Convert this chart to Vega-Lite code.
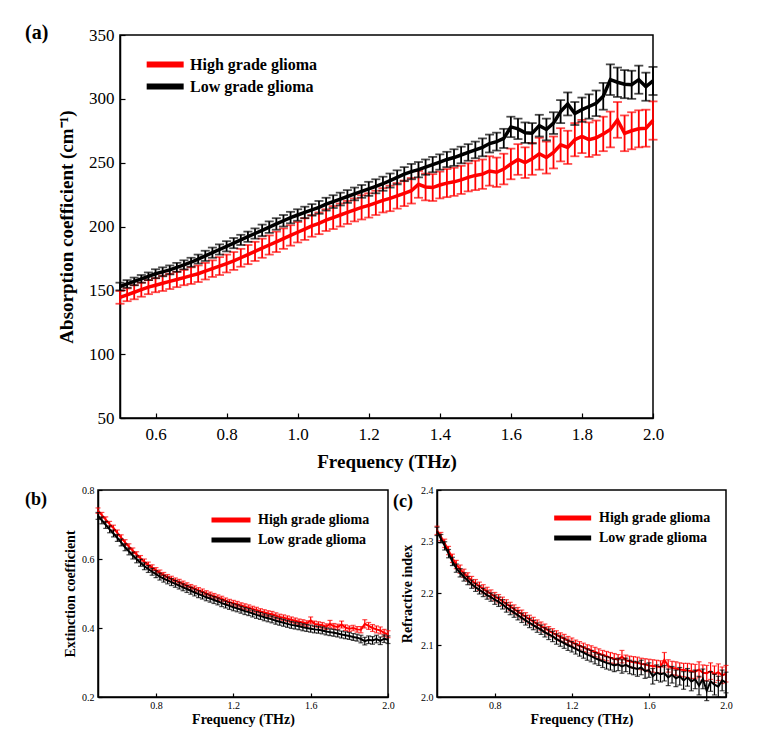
{
"$schema": "https://vega.github.io/schema/vega-lite/v6.json",
"background": "white",
"padding": {"left": 24, "top": 22, "right": 5, "bottom": 5},
"config": {
  "font": "Liberation Serif",
  "view": {"stroke": "black", "strokeWidth": 1.5},
  "axis": {"grid": false, "domainColor": "black", "domainWidth": 1.5, "tickColor": "black", "tickWidth": 1.2, "labelColor": "black", "titleColor": "black", "labelFont": "Liberation Serif", "titleFont": "Liberation Serif", "titleFontWeight": "bold", "labelFlush": false, "labelOverlap": false},
  "legend": {"labelFont": "Liberation Serif", "labelFontWeight": "bold", "labelColor": "black", "symbolType": "M-5,0L1,0", "symbolOpacity": 1, "title": null}
},
"datasets": {
"a": [
{"f":0.50,"h":144.5,"he":5,"l":153,"le":3},{"f":0.52,"h":146.5,"he":5,"l":155,"le":3},{"f":0.54,"h":148.5,"he":5.5,"l":157,"le":3},{"f":0.56,"h":150.5,"he":5.5,"l":159,"le":3},{"f":0.58,"h":152.5,"he":5.5,"l":161,"le":3},{"f":0.60,"h":154,"he":5.5,"l":163,"le":3.5},{"f":0.62,"h":155.5,"he":6,"l":164.5,"le":3.5},{"f":0.64,"h":157,"he":6,"l":166,"le":3.5},{"f":0.66,"h":158.5,"he":6,"l":168,"le":3.5},{"f":0.68,"h":160,"he":6,"l":170,"le":3.5},
{"f":0.70,"h":161.5,"he":6.5,"l":172,"le":3.5},{"f":0.72,"h":163,"he":6.5,"l":174.5,"le":3.5},{"f":0.74,"h":165,"he":6.5,"l":177,"le":4},{"f":0.76,"h":167,"he":6.5,"l":179.5,"le":4},{"f":0.78,"h":169,"he":7,"l":182,"le":4},{"f":0.80,"h":171,"he":7,"l":184.5,"le":4},{"f":0.82,"h":173,"he":7,"l":187,"le":4},{"f":0.84,"h":175.5,"he":7,"l":189.5,"le":4},{"f":0.86,"h":178,"he":7.5,"l":192,"le":4},{"f":0.88,"h":180.5,"he":7.5,"l":194.5,"le":4},
{"f":0.90,"h":183,"he":7.5,"l":197,"le":4.5},{"f":0.92,"h":185.5,"he":7.5,"l":199.5,"le":4.5},{"f":0.94,"h":188,"he":8,"l":202,"le":4.5},{"f":0.96,"h":190.5,"he":8,"l":204.5,"le":4.5},{"f":0.98,"h":193,"he":8,"l":207,"le":4.5},{"f":1.00,"h":195.5,"he":8,"l":209,"le":4.5},{"f":1.02,"h":198,"he":8.5,"l":211,"le":4.5},{"f":1.04,"h":200.5,"he":8.5,"l":213,"le":4.5},{"f":1.06,"h":202.5,"he":8.5,"l":215,"le":5},{"f":1.08,"h":205,"he":8.5,"l":217.5,"le":5},
{"f":1.10,"h":207,"he":9,"l":219.5,"le":5},{"f":1.12,"h":209,"he":9,"l":221.5,"le":5},{"f":1.14,"h":211,"he":9,"l":223.5,"le":5},{"f":1.16,"h":213,"he":9,"l":225.5,"le":5},{"f":1.18,"h":215,"he":9.5,"l":227.5,"le":5},{"f":1.20,"h":216.5,"he":9.5,"l":229.5,"le":5.5},{"f":1.22,"h":218.5,"he":9.5,"l":231.5,"le":5.5},{"f":1.24,"h":220.5,"he":9.5,"l":233.5,"le":5.5},{"f":1.26,"h":222,"he":10,"l":236,"le":5.5},{"f":1.28,"h":224,"he":10,"l":238.5,"le":5.5},
{"f":1.30,"h":226,"he":10,"l":241,"le":5.5},{"f":1.32,"h":228,"he":10,"l":243,"le":6},{"f":1.34,"h":233,"he":10.5,"l":244.5,"le":6},{"f":1.36,"h":231,"he":10.5,"l":246.5,"le":6},{"f":1.38,"h":230.5,"he":10.5,"l":248.5,"le":6},{"f":1.40,"h":232.5,"he":10.5,"l":250.5,"le":6},{"f":1.42,"h":234,"he":11,"l":252.5,"le":6},{"f":1.44,"h":235,"he":11,"l":254,"le":6.5},{"f":1.46,"h":236.5,"he":11,"l":256,"le":6.5},{"f":1.48,"h":238.5,"he":11,"l":258,"le":6.5},
{"f":1.50,"h":240,"he":11.5,"l":260,"le":6.5},{"f":1.52,"h":241,"he":11.5,"l":262,"le":7},{"f":1.54,"h":243.5,"he":11.5,"l":265,"le":7},{"f":1.56,"h":242.5,"he":11.5,"l":266.5,"le":7},{"f":1.58,"h":245,"he":12,"l":269,"le":7.5},{"f":1.60,"h":249,"he":12,"l":278,"le":8},{"f":1.62,"h":252.5,"he":12,"l":276.5,"le":8},{"f":1.64,"h":250,"he":12,"l":273.5,"le":8},{"f":1.66,"h":253,"he":12.5,"l":273,"le":8},{"f":1.68,"h":257,"he":12.5,"l":279,"le":8.5},
{"f":1.70,"h":254,"he":12.5,"l":276,"le":8.5},{"f":1.72,"h":258,"he":12.5,"l":281,"le":8.5},{"f":1.74,"h":264,"he":13,"l":290,"le":9},{"f":1.76,"h":262,"he":13,"l":296,"le":9},{"f":1.78,"h":268,"he":13,"l":288.5,"le":9},{"f":1.80,"h":270.5,"he":13,"l":291.5,"le":9.5},{"f":1.82,"h":268,"he":13.5,"l":294,"le":9.5},{"f":1.84,"h":269.5,"he":13.5,"l":296.5,"le":10},{"f":1.86,"h":272.5,"he":13.5,"l":302,"le":10.5},{"f":1.88,"h":276,"he":14,"l":315,"le":12},
{"f":1.90,"h":283.5,"he":14,"l":313,"le":11.5},{"f":1.92,"h":273,"he":14,"l":311.5,"le":11},{"f":1.94,"h":275,"he":14.5,"l":311,"le":11},{"f":1.96,"h":276.5,"he":14.5,"l":315,"le":11},{"f":1.98,"h":277,"he":14.5,"l":309.5,"le":11},{"f":2.00,"h":283,"he":15,"l":314,"le":11}
],
"b": [
{"f":0.50,"h":0.740,"he":0.008,"l":0.725,"le":0.010},{"f":0.52,"h":0.727,"he":0.008,"l":0.712,"le":0.010},{"f":0.54,"h":0.714,"he":0.008,"l":0.699,"le":0.010},{"f":0.56,"h":0.701,"he":0.008,"l":0.686,"le":0.010},{"f":0.58,"h":0.690,"he":0.008,"l":0.674,"le":0.010},{"f":0.60,"h":0.676,"he":0.008,"l":0.661,"le":0.010},{"f":0.62,"h":0.662,"he":0.008,"l":0.648,"le":0.010},{"f":0.64,"h":0.648,"he":0.008,"l":0.634,"le":0.010},{"f":0.66,"h":0.636,"he":0.008,"l":0.622,"le":0.010},{"f":0.68,"h":0.624,"he":0.008,"l":0.610,"le":0.010},
{"f":0.70,"h":0.613,"he":0.008,"l":0.599,"le":0.010},{"f":0.72,"h":0.602,"he":0.008,"l":0.589,"le":0.010},{"f":0.74,"h":0.592,"he":0.008,"l":0.579,"le":0.010},{"f":0.76,"h":0.583,"he":0.008,"l":0.571,"le":0.010},{"f":0.78,"h":0.575,"he":0.008,"l":0.563,"le":0.010},{"f":0.80,"h":0.567,"he":0.008,"l":0.556,"le":0.010},{"f":0.82,"h":0.560,"he":0.008,"l":0.549,"le":0.010},{"f":0.84,"h":0.553,"he":0.008,"l":0.543,"le":0.010},{"f":0.86,"h":0.547,"he":0.008,"l":0.538,"le":0.010},{"f":0.88,"h":0.542,"he":0.008,"l":0.533,"le":0.010},
{"f":0.90,"h":0.537,"he":0.008,"l":0.528,"le":0.010},{"f":0.92,"h":0.533,"he":0.008,"l":0.523,"le":0.010},{"f":0.94,"h":0.528,"he":0.008,"l":0.518,"le":0.010},{"f":0.96,"h":0.523,"he":0.008,"l":0.513,"le":0.010},{"f":0.98,"h":0.518,"he":0.008,"l":0.508,"le":0.010},{"f":1.00,"h":0.514,"he":0.008,"l":0.503,"le":0.010},{"f":1.02,"h":0.509,"he":0.008,"l":0.498,"le":0.010},{"f":1.04,"h":0.505,"he":0.008,"l":0.494,"le":0.010},{"f":1.06,"h":0.500,"he":0.008,"l":0.489,"le":0.010},{"f":1.08,"h":0.496,"he":0.008,"l":0.485,"le":0.010},
{"f":1.10,"h":0.492,"he":0.008,"l":0.481,"le":0.010},{"f":1.12,"h":0.488,"he":0.008,"l":0.477,"le":0.010},{"f":1.14,"h":0.484,"he":0.008,"l":0.472,"le":0.010},{"f":1.16,"h":0.479,"he":0.008,"l":0.468,"le":0.010},{"f":1.18,"h":0.475,"he":0.008,"l":0.464,"le":0.010},{"f":1.20,"h":0.472,"he":0.008,"l":0.460,"le":0.010},{"f":1.22,"h":0.469,"he":0.008,"l":0.457,"le":0.010},{"f":1.24,"h":0.465,"he":0.008,"l":0.453,"le":0.010},{"f":1.26,"h":0.462,"he":0.008,"l":0.449,"le":0.010},{"f":1.28,"h":0.459,"he":0.008,"l":0.446,"le":0.010},
{"f":1.30,"h":0.455,"he":0.008,"l":0.442,"le":0.010},{"f":1.32,"h":0.452,"he":0.008,"l":0.438,"le":0.010},{"f":1.34,"h":0.448,"he":0.008,"l":0.435,"le":0.010},{"f":1.36,"h":0.445,"he":0.008,"l":0.431,"le":0.010},{"f":1.38,"h":0.442,"he":0.008,"l":0.428,"le":0.010},{"f":1.40,"h":0.440,"he":0.008,"l":0.425,"le":0.010},{"f":1.42,"h":0.436,"he":0.008,"l":0.421,"le":0.010},{"f":1.44,"h":0.432,"he":0.008,"l":0.418,"le":0.010},{"f":1.46,"h":0.430,"he":0.008,"l":0.415,"le":0.010},{"f":1.48,"h":0.427,"he":0.008,"l":0.412,"le":0.010},
{"f":1.50,"h":0.424,"he":0.008,"l":0.409,"le":0.010},{"f":1.52,"h":0.421,"he":0.008,"l":0.407,"le":0.010},{"f":1.54,"h":0.418,"he":0.008,"l":0.405,"le":0.010},{"f":1.56,"h":0.416,"he":0.008,"l":0.402,"le":0.010},{"f":1.58,"h":0.413,"he":0.008,"l":0.400,"le":0.010},{"f":1.60,"h":0.422,"he":0.010,"l":0.398,"le":0.010},{"f":1.62,"h":0.412,"he":0.008,"l":0.396,"le":0.010},{"f":1.64,"h":0.410,"he":0.008,"l":0.395,"le":0.010},{"f":1.66,"h":0.408,"he":0.008,"l":0.393,"le":0.010},{"f":1.68,"h":0.404,"he":0.008,"l":0.390,"le":0.010},
{"f":1.70,"h":0.412,"he":0.010,"l":0.388,"le":0.010},{"f":1.72,"h":0.405,"he":0.008,"l":0.386,"le":0.010},{"f":1.74,"h":0.403,"he":0.008,"l":0.384,"le":0.010},{"f":1.76,"h":0.410,"he":0.010,"l":0.381,"le":0.010},{"f":1.78,"h":0.401,"he":0.008,"l":0.379,"le":0.010},{"f":1.80,"h":0.398,"he":0.008,"l":0.377,"le":0.010},{"f":1.82,"h":0.400,"he":0.008,"l":0.374,"le":0.010},{"f":1.84,"h":0.396,"he":0.008,"l":0.372,"le":0.010},{"f":1.86,"h":0.395,"he":0.009,"l":0.368,"le":0.011},{"f":1.88,"h":0.412,"he":0.012,"l":0.362,"le":0.011},
{"f":1.90,"h":0.406,"he":0.010,"l":0.366,"le":0.011},{"f":1.92,"h":0.400,"he":0.010,"l":0.364,"le":0.011},{"f":1.94,"h":0.396,"he":0.010,"l":0.368,"le":0.011},{"f":1.96,"h":0.393,"he":0.010,"l":0.363,"le":0.011},{"f":1.98,"h":0.386,"he":0.010,"l":0.369,"le":0.011},{"f":2.00,"h":0.382,"he":0.010,"l":0.366,"le":0.011}
],
"c": [
{"f":0.50,"h":2.322,"he":0.008,"l":2.320,"le":0.008},{"f":0.52,"h":2.310,"he":0.008,"l":2.306,"le":0.008},{"f":0.54,"h":2.297,"he":0.008,"l":2.292,"le":0.008},{"f":0.56,"h":2.283,"he":0.008,"l":2.277,"le":0.008},{"f":0.58,"h":2.268,"he":0.008,"l":2.262,"le":0.008},{"f":0.60,"h":2.256,"he":0.008,"l":2.249,"le":0.008},{"f":0.62,"h":2.247,"he":0.008,"l":2.240,"le":0.008},{"f":0.64,"h":2.239,"he":0.008,"l":2.232,"le":0.008},{"f":0.66,"h":2.232,"he":0.008,"l":2.225,"le":0.008},{"f":0.68,"h":2.225,"he":0.008,"l":2.218,"le":0.008},
{"f":0.70,"h":2.219,"he":0.008,"l":2.212,"le":0.008},{"f":0.72,"h":2.214,"he":0.008,"l":2.207,"le":0.008},{"f":0.74,"h":2.209,"he":0.008,"l":2.202,"le":0.008},{"f":0.76,"h":2.204,"he":0.008,"l":2.197,"le":0.008},{"f":0.78,"h":2.199,"he":0.008,"l":2.193,"le":0.008},{"f":0.80,"h":2.194,"he":0.008,"l":2.188,"le":0.009},{"f":0.82,"h":2.190,"he":0.008,"l":2.184,"le":0.009},{"f":0.84,"h":2.185,"he":0.008,"l":2.179,"le":0.009},{"f":0.86,"h":2.180,"he":0.008,"l":2.173,"le":0.009},{"f":0.88,"h":2.175,"he":0.008,"l":2.168,"le":0.009},
{"f":0.90,"h":2.170,"he":0.008,"l":2.163,"le":0.009},{"f":0.92,"h":2.165,"he":0.008,"l":2.158,"le":0.009},{"f":0.94,"h":2.160,"he":0.008,"l":2.153,"le":0.009},{"f":0.96,"h":2.155,"he":0.008,"l":2.148,"le":0.009},{"f":0.98,"h":2.150,"he":0.008,"l":2.143,"le":0.009},{"f":1.00,"h":2.146,"he":0.008,"l":2.139,"le":0.009},{"f":1.02,"h":2.141,"he":0.008,"l":2.134,"le":0.009},{"f":1.04,"h":2.137,"he":0.008,"l":2.130,"le":0.009},{"f":1.06,"h":2.133,"he":0.008,"l":2.125,"le":0.009},{"f":1.08,"h":2.128,"he":0.008,"l":2.121,"le":0.010},
{"f":1.10,"h":2.124,"he":0.008,"l":2.117,"le":0.010},{"f":1.12,"h":2.120,"he":0.008,"l":2.112,"le":0.010},{"f":1.14,"h":2.116,"he":0.008,"l":2.108,"le":0.010},{"f":1.16,"h":2.113,"he":0.008,"l":2.104,"le":0.010},{"f":1.18,"h":2.109,"he":0.008,"l":2.100,"le":0.010},{"f":1.20,"h":2.106,"he":0.008,"l":2.097,"le":0.010},{"f":1.22,"h":2.102,"he":0.008,"l":2.093,"le":0.010},{"f":1.24,"h":2.099,"he":0.008,"l":2.089,"le":0.010},{"f":1.26,"h":2.096,"he":0.008,"l":2.086,"le":0.011},{"f":1.28,"h":2.093,"he":0.008,"l":2.082,"le":0.011},
{"f":1.30,"h":2.090,"he":0.009,"l":2.079,"le":0.011},{"f":1.32,"h":2.087,"he":0.009,"l":2.075,"le":0.011},{"f":1.34,"h":2.084,"he":0.009,"l":2.072,"le":0.011},{"f":1.36,"h":2.081,"he":0.009,"l":2.069,"le":0.012},{"f":1.38,"h":2.079,"he":0.009,"l":2.066,"le":0.012},{"f":1.40,"h":2.076,"he":0.010,"l":2.064,"le":0.012},{"f":1.42,"h":2.074,"he":0.010,"l":2.061,"le":0.012},{"f":1.44,"h":2.072,"he":0.010,"l":2.063,"le":0.012},{"f":1.46,"h":2.078,"he":0.012,"l":2.059,"le":0.013},{"f":1.48,"h":2.071,"he":0.010,"l":2.062,"le":0.013},
{"f":1.50,"h":2.069,"he":0.010,"l":2.058,"le":0.013},{"f":1.52,"h":2.067,"he":0.011,"l":2.056,"le":0.013},{"f":1.54,"h":2.066,"he":0.011,"l":2.054,"le":0.014},{"f":1.56,"h":2.064,"he":0.011,"l":2.057,"le":0.014},{"f":1.58,"h":2.063,"he":0.011,"l":2.050,"le":0.014},{"f":1.60,"h":2.061,"he":0.012,"l":2.052,"le":0.014},{"f":1.62,"h":2.060,"he":0.012,"l":2.040,"le":0.015},{"f":1.64,"h":2.059,"he":0.012,"l":2.047,"le":0.015},{"f":1.66,"h":2.058,"he":0.012,"l":2.044,"le":0.015},{"f":1.68,"h":2.072,"he":0.014,"l":2.046,"le":0.015},
{"f":1.70,"h":2.060,"he":0.012,"l":2.038,"le":0.016},{"f":1.72,"h":2.056,"he":0.013,"l":2.043,"le":0.016},{"f":1.74,"h":2.055,"he":0.013,"l":2.036,"le":0.016},{"f":1.76,"h":2.053,"he":0.013,"l":2.040,"le":0.017},{"f":1.78,"h":2.052,"he":0.013,"l":2.032,"le":0.017},{"f":1.80,"h":2.051,"he":0.014,"l":2.038,"le":0.017},{"f":1.82,"h":2.050,"he":0.014,"l":2.030,"le":0.018},{"f":1.84,"h":2.049,"he":0.014,"l":2.034,"le":0.018},{"f":1.86,"h":2.053,"he":0.015,"l":2.022,"le":0.018},{"f":1.88,"h":2.047,"he":0.015,"l":2.035,"le":0.019},
{"f":1.90,"h":2.046,"he":0.015,"l":2.012,"le":0.019},{"f":1.92,"h":2.050,"he":0.016,"l":2.030,"le":0.019},{"f":1.94,"h":2.044,"he":0.016,"l":2.024,"le":0.020},{"f":1.96,"h":2.048,"he":0.016,"l":2.020,"le":0.020},{"f":1.98,"h":2.042,"he":0.016,"l":2.032,"le":0.020},{"f":2.00,"h":2.045,"he":0.016,"l":2.028,"le":0.020}
]
},
"resolve": {"scale": {"x": "independent", "y": "independent", "color": "independent"}, "legend": {"color": "independent"}},
"spacing": 12,
"vconcat": [
{
  "bounds": "flush",
  "spacing": 21,
  "resolve": {"scale": {"x": "independent", "y": "independent", "color": "independent"}, "legend": {"color": "independent"}},
  "hconcat": [
  {
    "width": 1, "height": 383,
    "view": {"stroke": null, "fill": null},
    "data": {"values": []},
    "mark": {"type": "point", "opacity": 0}
  },
  {
  "width": 533, "height": 383,
  "title": {"text": "(a)", "anchor": "start", "frame": "group", "orient": "top", "offset": 0, "dx": -95, "dy": 33, "baseline": "alphabetic", "fontSize": 20, "fontWeight": "bold", "font": "Liberation Serif", "color": "black"},
  "data": {"name": "a"},
  "encoding": {"x": {"field": "f", "type": "quantitative", "scale": {"domain": [0.5, 2.0], "nice": false, "zero": false}, "axis": {"values": [0.6, 0.8, 1.0, 1.2, 1.4, 1.6, 1.8, 2.0], "format": ".1f", "title": "Frequency (THz)", "labelFontSize": 17, "titleFontSize": 19, "tickSize": -5, "labelPadding": 13, "titlePadding": 10}}},
  "layer": [
    {"mark": {"type": "errorbar", "ticks": {"size": 9}, "thickness": 1.8},
     "encoding": {"y": {"field": "h", "type": "quantitative", "title": "Absorption coefficient (cm⁻¹)", "scale": {"domain": [50, 350], "nice": false, "zero": false}, "axis": {"values": [50, 100, 150, 200, 250, 300, 350], "labelFontSize": 17, "titleFontSize": 19, "tickSize": -5, "labelPadding": 11, "titlePadding": 12}},
       "yError": {"field": "he"},
       "color": {"datum": "High grade glioma", "type": "nominal", "scale": {"domain": ["High grade glioma", "Low grade glioma"], "range": ["#ff0000", "#000000"]},
         "legend": {"orient": "none", "legendX": 48, "legendY": 20, "symbolSize": 152, "symbolStrokeWidth": 6, "labelFontSize": 16, "labelOffset": 3, "rowPadding": -4}}}},
    {"mark": {"type": "line", "strokeWidth": 3.5},
     "encoding": {"y": {"field": "h", "type": "quantitative", "title": "Absorption coefficient (cm⁻¹)"}, "color": {"datum": "High grade glioma", "type": "nominal"}}},
    {"mark": {"type": "errorbar", "ticks": {"size": 9}, "thickness": 1.8},
     "encoding": {"y": {"field": "l", "type": "quantitative", "title": "Absorption coefficient (cm⁻¹)"}, "yError": {"field": "le"}, "color": {"datum": "Low grade glioma", "type": "nominal"}}},
    {"mark": {"type": "line", "strokeWidth": 3.5},
     "encoding": {"y": {"field": "l", "type": "quantitative", "title": "Absorption coefficient (cm⁻¹)"}, "color": {"datum": "Low grade glioma", "type": "nominal"}}}
  ]
  }
  ]
},
{
  "bounds": "flush",
  "spacing": 49,
  "resolve": {"scale": {"x": "independent", "y": "independent", "color": "independent"}, "legend": {"color": "independent"}},
  "hconcat": [
  {
    "width": 290, "height": 207,
    "title": {"text": "(b)", "anchor": "start", "frame": "group", "orient": "top", "offset": 0, "dx": -73, "dy": 38, "baseline": "alphabetic", "fontSize": 18, "fontWeight": "bold", "font": "Liberation Serif", "color": "black"},
    "data": {"name": "b"},
    "encoding": {"x": {"field": "f", "type": "quantitative", "scale": {"domain": [0.5, 2.0], "nice": false, "zero": false}, "axis": {"values": [0.8, 1.2, 1.6, 2.0], "format": ".1f", "title": "Frequency (THz)", "labelFontSize": 10, "titleFontSize": 14, "tickSize": -4, "labelPadding": 7, "titlePadding": 2}}},
    "layer": [
      {"mark": {"type": "errorbar", "ticks": {"size": 5}, "thickness": 1.2},
       "encoding": {"y": {"field": "h", "type": "quantitative", "title": "Extinction coefficient", "scale": {"domain": [0.2, 0.8], "nice": false, "zero": false}, "axis": {"values": [0.2, 0.3, 0.4, 0.5, 0.6, 0.7, 0.8], "format": ".1f", "labelFontSize": 10, "titleFontSize": 14, "tickSize": -4, "labelPadding": 8, "titlePadding": 4}},
         "yError": {"field": "he"},
         "color": {"datum": "High grade glioma", "type": "nominal", "scale": {"domain": ["High grade glioma", "Low grade glioma"], "range": ["#ff0000", "#000000"]},
           "legend": {"orient": "none", "legendX": 137, "legendY": 21, "symbolSize": 169, "symbolStrokeWidth": 5, "labelFontSize": 14, "labelOffset": 5, "rowPadding": 0}}}},
      {"mark": {"type": "line", "strokeWidth": 2},
       "encoding": {"y": {"field": "h", "type": "quantitative", "title": "Extinction coefficient"}, "color": {"datum": "High grade glioma", "type": "nominal"}}},
      {"mark": {"type": "errorbar", "ticks": {"size": 5}, "thickness": 1.2},
       "encoding": {"y": {"field": "l", "type": "quantitative", "title": "Extinction coefficient"}, "yError": {"field": "le"}, "color": {"datum": "Low grade glioma", "type": "nominal"}}},
      {"mark": {"type": "line", "strokeWidth": 2},
       "encoding": {"y": {"field": "l", "type": "quantitative", "title": "Extinction coefficient"}, "color": {"datum": "Low grade glioma", "type": "nominal"}}}
    ]
  },
  {
    "width": 289, "height": 207,
    "title": {"text": "(c)", "anchor": "start", "frame": "group", "orient": "top", "offset": 0, "dx": -44, "dy": 40, "baseline": "alphabetic", "fontSize": 18, "fontWeight": "bold", "font": "Liberation Serif", "color": "black"},
    "data": {"name": "c"},
    "encoding": {"x": {"field": "f", "type": "quantitative", "scale": {"domain": [0.5, 2.0], "nice": false, "zero": false}, "axis": {"values": [0.8, 1.2, 1.6, 2.0], "format": ".1f", "title": "Frequency (THz)", "labelFontSize": 10, "titleFontSize": 14, "tickSize": -4, "labelPadding": 7, "titlePadding": 2}}},
    "layer": [
      {"mark": {"type": "errorbar", "ticks": {"size": 5}, "thickness": 1.2},
       "encoding": {"y": {"field": "h", "type": "quantitative", "title": "Refractive index", "scale": {"domain": [2.0, 2.4], "nice": false, "zero": false}, "axis": {"values": [2.0, 2.1, 2.2, 2.3, 2.4], "format": ".1f", "labelFontSize": 10, "titleFontSize": 14, "tickSize": -4, "labelPadding": 8, "titlePadding": 6}},
         "yError": {"field": "he"},
         "color": {"datum": "High grade glioma", "type": "nominal", "scale": {"domain": ["High grade glioma", "Low grade glioma"], "range": ["#ff0000", "#000000"]},
           "legend": {"orient": "none", "legendX": 139, "legendY": 19, "symbolSize": 152, "symbolStrokeWidth": 5, "labelFontSize": 14, "labelOffset": 5, "rowPadding": 0}}}},
      {"mark": {"type": "line", "strokeWidth": 2},
       "encoding": {"y": {"field": "h", "type": "quantitative", "title": "Refractive index"}, "color": {"datum": "High grade glioma", "type": "nominal"}}},
      {"mark": {"type": "errorbar", "ticks": {"size": 5}, "thickness": 1.2},
       "encoding": {"y": {"field": "l", "type": "quantitative", "title": "Refractive index"}, "yError": {"field": "le"}, "color": {"datum": "Low grade glioma", "type": "nominal"}}},
      {"mark": {"type": "line", "strokeWidth": 2},
       "encoding": {"y": {"field": "l", "type": "quantitative", "title": "Refractive index"}, "color": {"datum": "Low grade glioma", "type": "nominal"}}}
    ]
  }
  ]
}
]
}
